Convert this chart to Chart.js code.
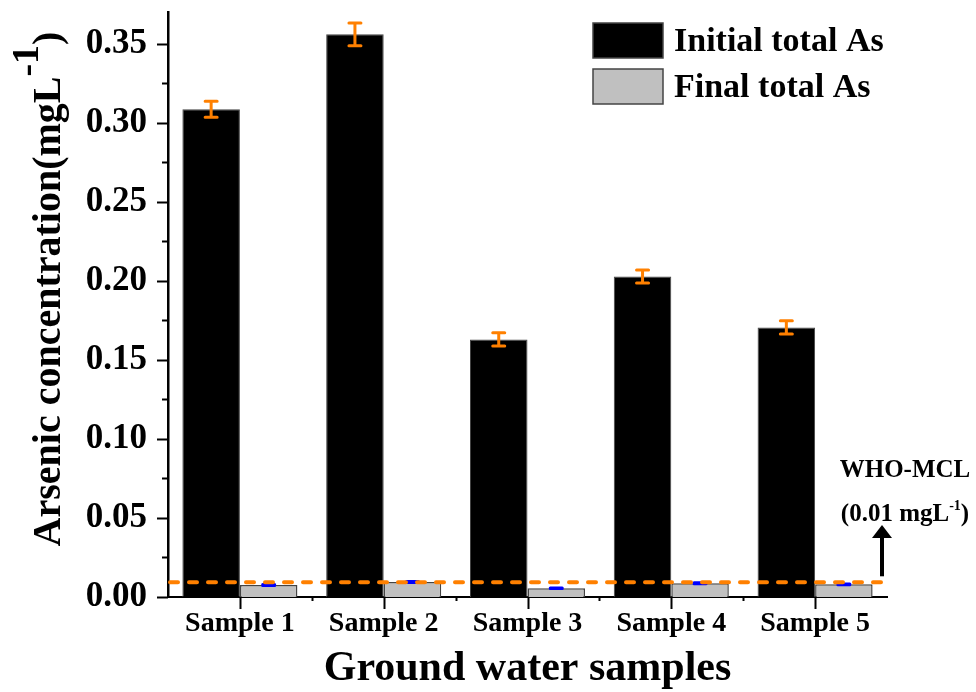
<!DOCTYPE html>
<html>
<head>
<meta charset="utf-8">
<script src="https://cdn.jsdelivr.net/npm/chart.js@4.4.1/dist/chart.umd.min.js"></script>
<style>
  html, body { margin: 0; padding: 0; background: #fff; }
</style>
</head>
<body>
<canvas id="asChart" width="976" height="692"></canvas>
<script>
// Data
const categories = ['Sample 1', 'Sample 2', 'Sample 3', 'Sample 4', 'Sample 5'];
const initialAs = [0.3085, 0.3559, 0.1629, 0.2027, 0.1705];
const initialErr = [0.0050, 0.0072, 0.0042, 0.0041, 0.0042];
const finalAs = [0.0076, 0.0095, 0.0055, 0.0087, 0.0080];
const finalErr = [0.0003, 0.0003, 0.0002, 0.0003, 0.0003];
const whoLimit = 0.0093;
const yTicks = [0, 0.05, 0.10, 0.15, 0.20, 0.25, 0.30, 0.35];
const yMinorTicks = [0.025, 0.075, 0.125, 0.175, 0.225, 0.275, 0.325];

const SERIF = '"Liberation Serif", "Times New Roman", serif';

// Text with a raised "-1" exponent, centred on (0,0) of the current transform
function drawSupText(ctx, before, sup, after, size, supSize, rise) {
  ctx.font = 'bold ' + size + 'px ' + SERIF;
  const w1 = ctx.measureText(before).width;
  const w3 = ctx.measureText(after).width;
  ctx.font = 'bold ' + supSize + 'px ' + SERIF;
  const w2 = ctx.measureText(sup).width;
  let x = -(w1 + w2 + w3) / 2;
  ctx.textAlign = 'left';
  ctx.font = 'bold ' + size + 'px ' + SERIF;
  ctx.fillText(before, x, 0);
  x += w1;
  ctx.font = 'bold ' + supSize + 'px ' + SERIF;
  ctx.fillText(sup, x, -rise);
  x += w2;
  ctx.font = 'bold ' + size + 'px ' + SERIF;
  ctx.fillText(after, x, 0);
}

const extras = {
  id: 'extras',
  afterDatasetsDraw(chart) {
    const ctx = chart.ctx;
    const ys = chart.scales.y;
    const area = chart.chartArea;
    const errSets = [initialErr, finalErr];
    const errColors = ['#ff8000', '#0000ff'];

    // error bars
    ctx.save();
    chart.data.datasets.forEach((ds, di) => {
      const meta = chart.getDatasetMeta(di);
      meta.data.forEach((bar, i) => {
        const v = ds.data[i];
        const e = errSets[di][i];
        const top = ys.getPixelForValue(v + e);
        const bot = ys.getPixelForValue(v - e);
        ctx.strokeStyle = errColors[di];
        ctx.lineWidth = 3;
        ctx.lineCap = 'round';
        ctx.beginPath();
        ctx.moveTo(bar.x, top);
        ctx.lineTo(bar.x, bot);
        ctx.moveTo(bar.x - 6, top);
        ctx.lineTo(bar.x + 6, top);
        ctx.moveTo(bar.x - 6, bot);
        ctx.lineTo(bar.x + 6, bot);
        ctx.stroke();
      });
    });

    // WHO limit dashed line
    const yw = ys.getPixelForValue(whoLimit);
    ctx.strokeStyle = '#ff8000';
    ctx.lineWidth = 4;
    ctx.lineCap = 'round';
    ctx.setLineDash([8, 11]);
    ctx.beginPath();
    ctx.moveTo(area.left + 2, yw);
    ctx.lineTo(area.right, yw);
    ctx.stroke();
    ctx.setLineDash([]);
    ctx.restore();
  },
  afterDraw(chart) {
    const ctx = chart.ctx;
    const xs = chart.scales.x;
    const ys = chart.scales.y;
    const area = chart.chartArea;
    ctx.save();
    ctx.strokeStyle = '#000';

    // y tick marks
    ctx.lineWidth = 2;
    yTicks.forEach(v => {
      const p = Math.round(ys.getPixelForValue(v)) + 0.5;
      ctx.beginPath();
      ctx.moveTo(area.left - 11, p);
      ctx.lineTo(area.left, p);
      ctx.stroke();
    });
    yMinorTicks.forEach(v => {
      const p = Math.round(ys.getPixelForValue(v)) + 0.5;
      ctx.beginPath();
      ctx.moveTo(area.left - 6, p);
      ctx.lineTo(area.left, p);
      ctx.stroke();
    });

    // x tick marks
    categories.forEach((c, i) => {
      const p = Math.round(xs.getPixelForValue(i)) + 0.5;
      ctx.beginPath();
      ctx.moveTo(p, area.bottom);
      ctx.lineTo(p, area.bottom + 12);
      ctx.stroke();
      if (i > 0) {
        const b = Math.round(xs.getPixelForValue(i - 0.5)) + 0.5;
        ctx.beginPath();
        ctx.moveTo(b, area.bottom);
        ctx.lineTo(b, area.bottom + 4);
        ctx.stroke();
      }
    });

    ctx.fillStyle = '#000';
    ctx.textBaseline = 'alphabetic';

    // x title
    ctx.font = 'bold 42px ' + SERIF;
    ctx.textAlign = 'center';
    ctx.fillText('Ground water samples', (area.left + area.right) / 2, 680);

    // y title
    ctx.save();
    ctx.translate(60, 289);
    ctx.rotate(-Math.PI / 2);
    drawSupText(ctx, 'Arsenic concentration(mgL', '-1', ')', 40, 38, 22);
    ctx.restore();

    // legend
    chart.data.datasets.forEach((ds, i) => {
      const top = 23 + i * 46;
      ctx.fillStyle = ds.backgroundColor;
      ctx.fillRect(593, top, 70, 35);
      ctx.strokeStyle = '#444';
      ctx.lineWidth = 1.5;
      ctx.strokeRect(593, top, 70, 35);
      ctx.fillStyle = '#000';
      ctx.font = 'bold 34px ' + SERIF;
      ctx.textAlign = 'left';
      ctx.textBaseline = 'middle';
      ctx.fillText(ds.label, 674, top + 19);
    });

    // WHO annotation
    const yw = ys.getPixelForValue(whoLimit);
    const ax = area.right - 5;
    ctx.strokeStyle = '#000';
    ctx.lineWidth = 4;
    ctx.beginPath();
    ctx.moveTo(ax, yw - 6);
    ctx.lineTo(ax, 535);
    ctx.stroke();
    ctx.beginPath();
    ctx.moveTo(ax, 525);
    ctx.lineTo(ax - 10, 538);
    ctx.lineTo(ax + 10, 538);
    ctx.closePath();
    ctx.fill();

    ctx.textBaseline = 'alphabetic';
    ctx.font = 'bold 25px ' + SERIF;
    ctx.textAlign = 'center';
    ctx.fillText('WHO-MCL', 905, 477);
    ctx.save();
    ctx.translate(905, 521);
    drawSupText(ctx, '(0.01 mgL', '-1', ')', 25, 14, 11);
    ctx.restore();

    ctx.restore();
  }
};

const ctx = document.getElementById('asChart').getContext('2d');
new Chart(ctx, {
  type: 'bar',
  data: {
    labels: categories,
    datasets: [
      {
        label: 'Initial total As',
        data: initialAs,
        backgroundColor: '#000000',
        borderColor: '#444444',
        borderWidth: 1,
      },
      {
        label: 'Final total As',
        data: finalAs,
        backgroundColor: '#c0c0c0',
        borderColor: '#444444',
        borderWidth: 1.5,
      },
    ],
  },
  options: {
    responsive: false,
    animation: false,
    devicePixelRatio: 1,
    layout: { padding: { top: 12, right: 89, left: 0, bottom: 0 } },
    datasets: { bar: { categoryPercentage: 0.8, barPercentage: 1.0 } },
    plugins: {
      legend: { display: false },
      tooltip: { enabled: false },
    },
    scales: {
      x: {
        grid: { display: false, drawTicks: false },
        border: { display: true, color: '#000', width: 2 },
        ticks: {
          color: '#000',
          font: { family: SERIF, size: 28, weight: 'bold' },
          padding: 10,
          autoSkip: false,
          maxRotation: 0,
        },
        afterFit: (s) => {
          s.height = 95;
          s.paddingLeft = 0;
          s.paddingRight = 0;
        },
      },
      y: {
        min: 0,
        max: 0.37,
        grid: { display: false, drawTicks: false },
        border: { display: true, color: '#000', width: 2.5 },
        afterBuildTicks: (s) => { s.ticks = yTicks.map((v) => ({ value: v })); },
        ticks: {
          color: '#000',
          font: { family: SERIF, size: 35, weight: 'bold' },
          padding: 21,
          callback: (v) => Number(v).toFixed(2),
        },
        afterFit: (s) => {
          s.width = 168;
          s.paddingTop = 0;
          s.paddingBottom = 0;
        },
      },
    },
  },
  plugins: [extras],
});
</script>
</body>
</html>
